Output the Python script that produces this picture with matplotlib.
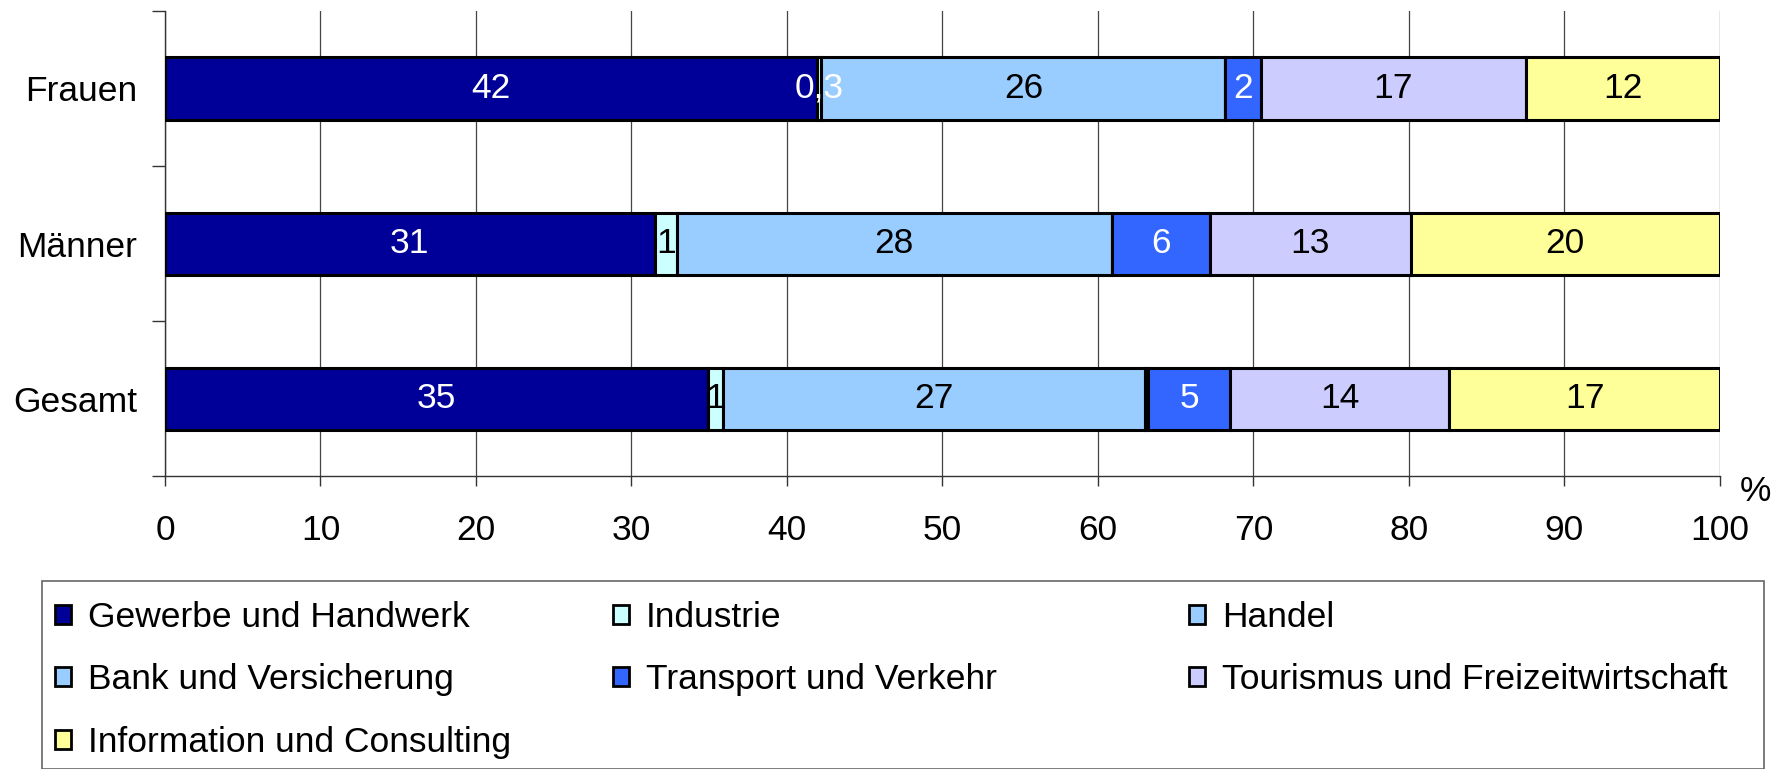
import matplotlib.pyplot as plt
import matplotlib.patches as mpatches
import numpy as np

plt.rcParams['font.family'] = ['Liberation Sans', 'DejaVu Sans']

# categories from top to bottom
categories = ['Frauen', 'Männer', 'Gesamt']

# series shares in %, one value per category
gewerbe = [41.9, 31.5, 34.9]
industrie = [0.3, 1.4, 1.0]
handel = [26.0, 28.0, 27.1]
bank = [0.0, 0.0, 0.2]
transport = [2.3, 6.3, 5.3]
tourismus = [17.0, 12.9, 14.1]
information = [12.5, 19.9, 17.4]

# the numbers printed on the bars
gewerbe_lbl = ['42', '31', '35']
industrie_lbl = ['0,3', '1', '1']
handel_lbl = ['26', '28', '27']
bank_lbl = ['', '', '']
transport_lbl = ['2', '6', '5']
tourismus_lbl = ['17', '13', '14']
information_lbl = ['12', '20', '17']

series_names = ['Gewerbe und Handwerk', 'Industrie', 'Handel', 'Bank und Versicherung',
                'Transport und Verkehr', 'Tourismus und Freizeitwirtschaft',
                'Information und Consulting']
series = [gewerbe, industrie, handel, bank, transport, tourismus, information]
labels = [gewerbe_lbl, industrie_lbl, handel_lbl, bank_lbl, transport_lbl,
          tourismus_lbl, information_lbl]
colors = ['#000099', '#CCFFFF', '#99CCFF', '#99CCFF', '#3366FF', '#CCCCFF', '#FFFF99']
text_colors = ['white', 'black', 'black', 'black', 'white', 'black', 'black']

FS = 25.5

fig = plt.figure(figsize=(17.87, 7.69), dpi=100)
ax = fig.add_axes([0.0923, 0.381, 0.8702, 0.6047])

y = np.arange(len(categories))
left = np.zeros(len(categories))
for name, vals, lbls, col, tcol in zip(series_names, series, labels, colors, text_colors):
    vals = np.array(vals)
    bars = ax.barh(y, vals, left=left, height=0.4, color=col, edgecolor='black',
                   linewidth=2.2, label=name, zorder=3)
    for i, b in enumerate(bars):
        if lbls[i] == '':
            continue
        c = tcol
        if name == 'Industrie' and vals[i] < 1:
            c = 'white'
        ax.text(left[i] + vals[i] / 2, y[i], lbls[i], ha='center', va='center',
                fontsize=FS, color=c, zorder=4)
    left = left + vals

ax.set_xlim(0, 100)
ax.set_ylim(2.5, -0.5)
ax.set_xticks(np.arange(0, 101, 10))
ax.tick_params(axis='x', labelsize=FS, length=7.2, width=1, pad=20, color='#333333')
ax.set_yticks(y)
ax.set_yticklabels(categories)
ax.tick_params(axis='y', which='major', length=0, labelsize=FS, pad=20)
ax.set_yticks([-0.5, 0.5, 1.5, 2.5], minor=True)
ax.tick_params(axis='y', which='minor', length=9.4, width=1, color='#333333')
ax.grid(axis='x', color='#444444', linewidth=0.9, zorder=0)
ax.spines['top'].set_visible(False)
ax.spines['right'].set_visible(False)
for s in ['left', 'bottom']:
    ax.spines[s].set_color('#333333')
    ax.spines[s].set_linewidth(1)

ax.text(1.0225, -0.034, '%', transform=ax.transAxes, ha='center', va='center', fontsize=FS)

# legend: a frame plus three columns, filled row by row like the original
frame = mpatches.Rectangle((42 / 1787, 0), 1722 / 1787, 1 - 581 / 769, transform=fig.transFigure,
                           facecolor='white', edgecolor='#666666', linewidth=1.2)
fig.add_artist(frame)
col_x = [55 / 1787, 613 / 1787, 1189 / 1787]
for c in range(3):
    idx = list(range(c, len(series_names), 3))
    hs = []
    for k in idx:
        hs.append(mpatches.Patch(facecolor=colors[k], edgecolor='black', linewidth=2))
    fig.legend(hs, [series_names[k] for k in idx], loc='upper left',
               bbox_to_anchor=(col_x[c], 1 - 601 / 769), borderaxespad=0, borderpad=0,
               frameon=False, fontsize=FS, handlelength=0.45, handleheight=0.45,
               handletextpad=0.48, labelspacing=0.83)

fig.savefig('out.png', dpi=100)
